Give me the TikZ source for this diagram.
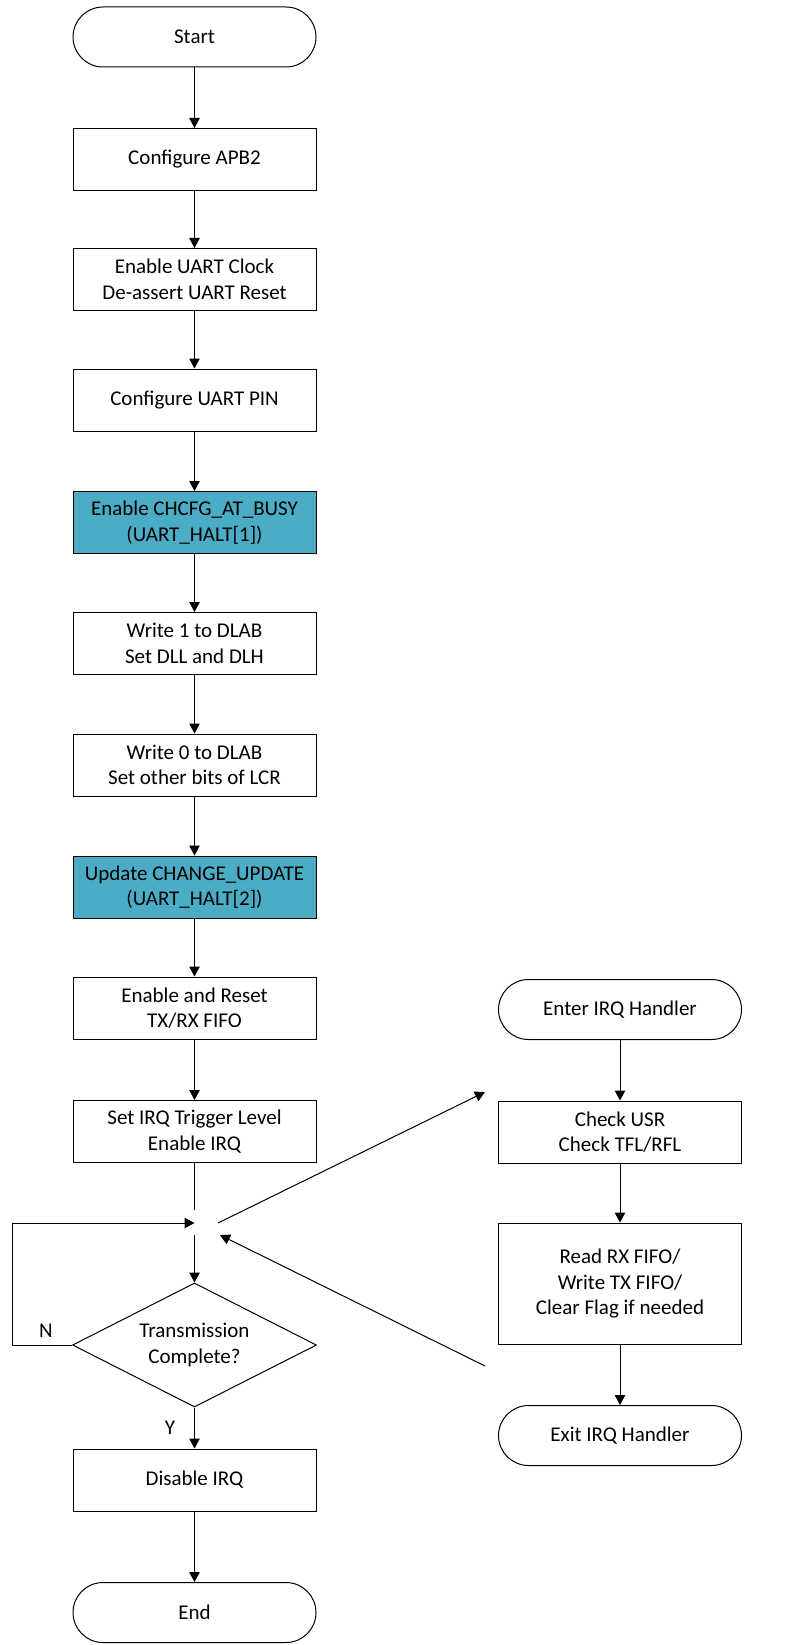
\documentclass[tikz,border=0pt]{standalone}
\usepackage{fontspec}
\setmainfont{Carlito}
\usetikzlibrary{arrows.meta,shapes.geometric}
\definecolor{tealfill}{HTML}{4BACC6}
\begin{document}
\begin{tikzpicture}[x=1pt,y=-1pt,
  every node/.style={font=\fontsize{21}{25.5}\selectfont, align=center, inner sep=0pt},
  proc/.style={draw=black, line width=1pt, minimum width=243pt, minimum height=62pt},
  hl/.style={proc, fill=tealfill},
  term/.style={draw=black, line width=1pt, minimum width=243pt, minimum height=60pt, rounded corners=30pt},
  dec/.style={draw=black, line width=1pt, diamond, minimum width=244pt, minimum height=124pt, aspect=2},
  flow/.style={draw=black, line width=1pt, -{Triangle[length=10pt,width=10.5pt]}},
  plain/.style={draw=black, line width=1pt}
]
\useasboundingbox (0,0) rectangle (798,1645);
% left column
\node[term] (start) at (194.5,37) {Start};
\node[proc] (apb) at (194.5,159.5) {Configure APB2};
\node[proc] (clk) at (194.5,279.5) {Enable UART Clock\\De-assert UART Reset};
\node[proc] (pin) at (194.5,400) {Configure UART PIN};
\node[hl] (busy) at (194.5,522.5) {Enable CHCFG\_AT\_BUSY\\(UART\_HALT[1])};
\node[proc] (dlab1) at (194.5,643.5) {Write 1 to DLAB\\Set DLL and DLH};
\node[proc] (dlab0) at (194.5,765) {Write 0 to DLAB\\Set other bits of LCR};
\node[hl] (upd) at (194.5,887) {Update CHANGE\_UPDATE\\(UART\_HALT[2])};
\node[proc] (fifo) at (194.5,1008) {Enable and Reset\\TX/RX FIFO};
\node[proc] (irq) at (194.5,1131.5) {Set IRQ Trigger Level\\Enable IRQ};
\node[dec] (tc) at (194.5,1345) {Transmission\\Complete?};
\node[proc] (dis) at (194.5,1480) {Disable IRQ};
\node[term] (end) at (194.5,1612.5) {End};
% right column
\node[term] (enter) at (620,1009.5) {Enter IRQ Handler};
\node[proc] (chk) at (620,1132) {Check USR\\Check TFL/RFL};
\node[proc, minimum height=121pt] (rd) at (620,1283.5) {Read RX FIFO/\\Write TX FIFO/\\Clear Flag if needed};
\node[term] (exit) at (620,1435.5) {Exit IRQ Handler};
% junction coordinates
\coordinate (jtop) at (194.5,1210);
\coordinate (jbot) at (194.5,1235);
\coordinate (jin) at (194.5,1223);
\coordinate (loopb) at (12,1345);
\coordinate (loopt) at (12,1223);
\coordinate (jout) at (218,1223);
\coordinate (toisr) at (485,1092);
\coordinate (fromisr) at (485,1366);
\coordinate (jret) at (220,1235);
% connectors
\draw[flow] (start) -- (apb);
\draw[flow] (apb) -- (clk);
\draw[flow] (clk) -- (pin);
\draw[flow] (pin) -- (busy);
\draw[flow] (busy) -- (dlab1);
\draw[flow] (dlab1) -- (dlab0);
\draw[flow] (dlab0) -- (upd);
\draw[flow] (upd) -- (fifo);
\draw[flow] (fifo) -- (irq);
\draw[plain] (irq) -- (jtop);
\draw[flow] (jbot) -- (tc.north);
\draw[flow] (tc.west) -- (loopb) -- (loopt) -- (jin);
\draw[flow] (tc.south) -- (dis);
\draw[flow] (dis) -- (end);
\draw[flow] (jout) -- (toisr);
\draw[flow] (fromisr) -- (jret);
\draw[flow] (enter) -- (chk);
\draw[flow] (chk) -- (rd);
\draw[flow] (rd) -- (exit);
% labels
\node (nlab) at (46,1331) {N};
\node (ylab) at (170,1428) {Y};
\end{tikzpicture}
\end{document}
